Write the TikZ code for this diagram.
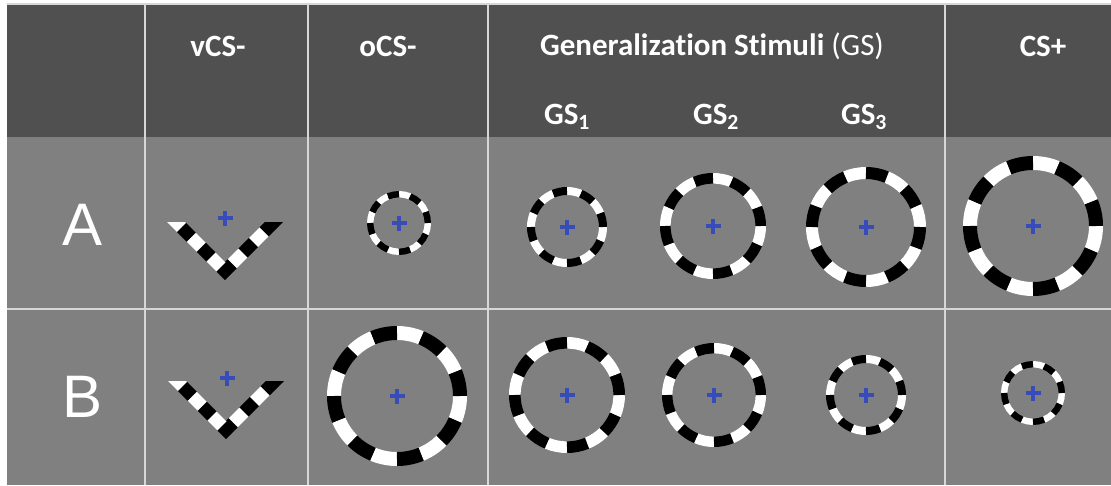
\documentclass[tikz,border=0pt]{standalone}
\usepackage{fontspec}
\setmainfont{Carlito}[Ligatures=NoCommon]
\newfontfamily\rowfont{Liberation Sans}
\definecolor{headgray}{RGB}{80,80,80}
\definecolor{cellgray}{RGB}{128,128,128}
\definecolor{gridgray}{RGB}{215,215,215}
\definecolor{fixblue}{RGB}{55,75,185}
\tikzset{ring start/.store in=\ringstart, ring start=0}
\tikzset{ring/.pic={
    \pgfmathsetmacro\ringw{0.2*#1}
    \pgfmathsetmacro\ringmid{#1-\ringw/2}
    \foreach \k in {0,2,...,14}
      \draw[white, line width=\ringw pt] (\k*22.5+\ringstart:\ringmid) arc[start angle=\k*22.5+\ringstart, delta angle=22.5, radius=\ringmid];
    \foreach \k in {1,3,...,15}
      \draw[black, line width=\ringw pt] (\k*22.5+\ringstart:\ringmid) arc[start angle=\k*22.5+\ringstart, delta angle=22.5, radius=\ringmid];
    \draw[fixblue, line width=3.5pt] (-7.5,0) -- (7.5,0) (0,-7.5) -- (0,7.5); % fixation
}
}
\tikzset{fix/.pic={
    \draw[fixblue, line width=3.5pt] (-7.5,0) -- (7.5,0) (0,-7.5) -- (0,7.5);
}
}
\tikzset{vee/.pic={
    \begin{scope}
      \clip (-70,-49) rectangle (70,20); % flat top ends
      \draw[black, line width=13pt] (-62,-62) -- (0,0) -- (62,-62);
      \draw[white, line width=13pt, dash pattern=on 26pt off 14pt on 14pt off 14pt on 14pt off 16pt on 15pt off 15pt on 15pt off 40pt] (-62,-62) -- (0,0) -- (62,-62);
    \end{scope}
}
}

\begin{document}
\begin{tikzpicture}[x=1pt, y=-1pt,
    head/.style={text=white, font=\fontsize{31}{34}\selectfont\bfseries, inner sep=0pt},
    rowlabel/.style={text=white, font=\rowfont\fontsize{60}{62}\selectfont, inner sep=0pt},
    grid/.style={gridgray, line width=2.5pt}]
  \useasboundingbox (0,0) rectangle (1111,485);
  \fill[white] (0,0) rectangle (1111,485);
  \fill[headgray] (7,4) rectangle (1111,137);
  \fill[cellgray] (7,137) rectangle (1111,485);

  % grid
  \draw[grid] (7,4) -- (1111,4);
  \draw[grid] (7,309) -- (1111,309);
  \foreach \gx in {145,308,488,945}
    \draw[grid] (\gx,4) -- (\gx,485);

  % header
  \node[head] (vcs) at (218,46) {vCS-};
  \node[head] (ocs) at (388,46) {oCS-};
  \node[head] (gs) at (712,46) {Generalization Stimuli {\mdseries(GS)}};
  \node[head] (gs1) at (567,117) {GS\textsubscript{1}};
  \node[head] (gs2) at (716,117) {GS\textsubscript{2}};
  \node[head] (gs3) at (864,117) {GS\textsubscript{3}};
  \node[head] (csplus) at (1043,46) {CS+};

  % rows
  \node[rowlabel] (rowA) at (83,225) {A};
  \node[rowlabel] (rowB) at (83,397) {B};

  % row A
  \pic at (225,271) {vee};
  \pic at (225,218) {fix};
  \pic at (399,223) {ring=32};
  \pic at (567,227) {ring=40};
  \pic at (713,226) {ring=53};
  \pic[ring start=22.5] at (866,227) {ring=60};
  \pic at (1033,226) {ring=70};

  % row B
  \pic at (226,430) {vee};
  \pic at (227,378) {fix};
  \pic at (397,396) {ring=70};
  \pic at (567,395) {ring=58};
  \pic at (714,395) {ring=52};
  \pic at (866,395) {ring=40};
  \pic at (1033,393) {ring=32};
\end{tikzpicture}
\end{document}
